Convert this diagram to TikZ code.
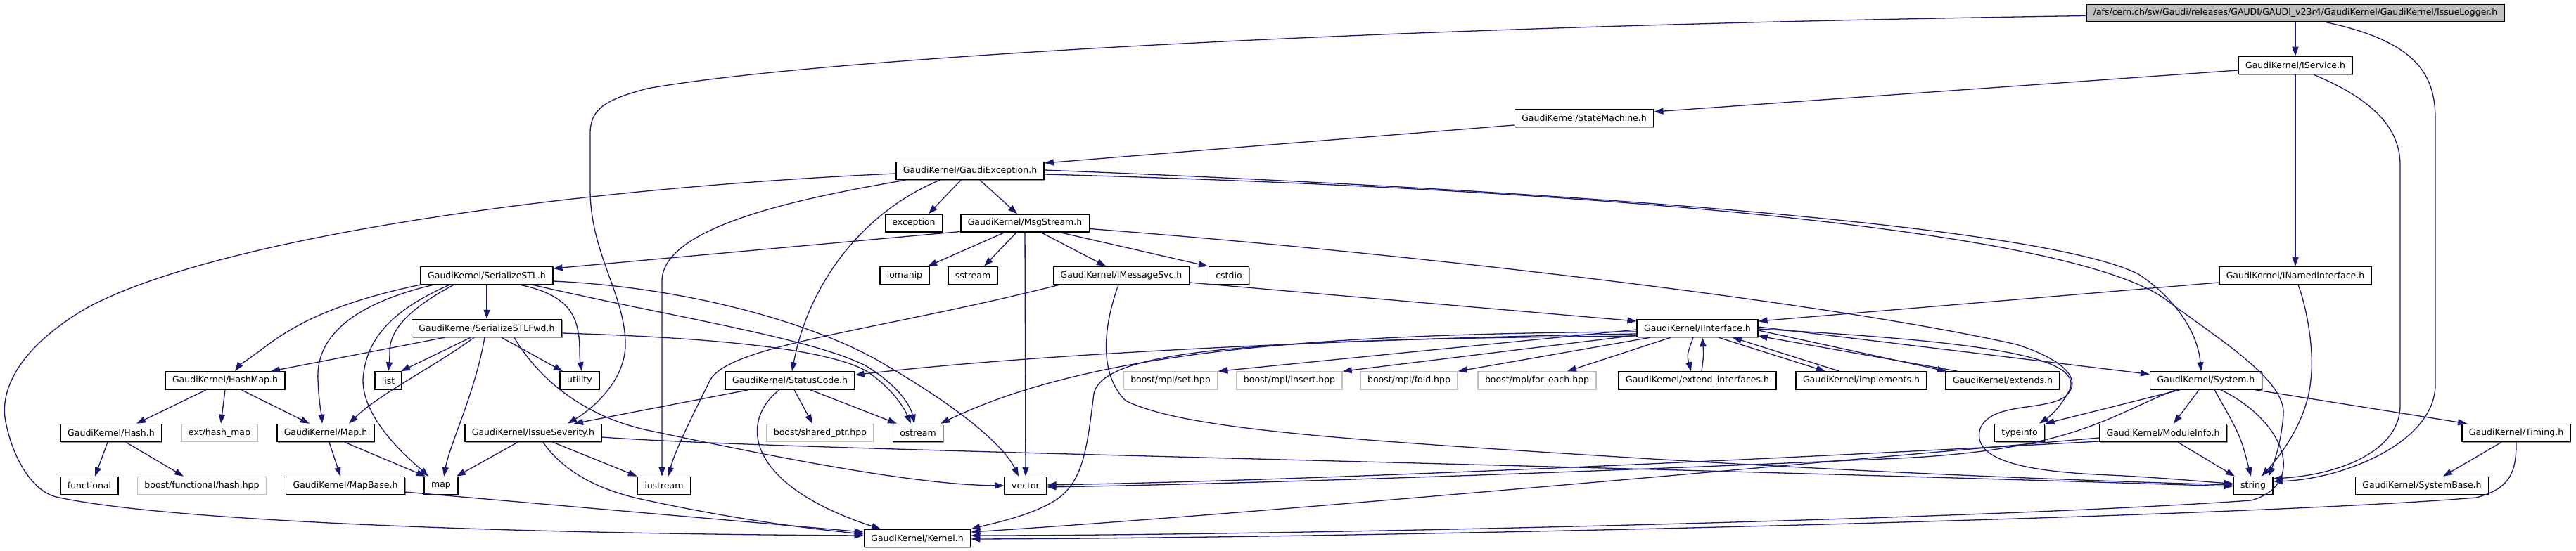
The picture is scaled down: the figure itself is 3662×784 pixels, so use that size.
\documentclass[tikz,border=0pt]{standalone}
\usepackage{fontspec}
\setmainfont{DejaVu Sans}
\usetikzlibrary{arrows.meta,shadows}
\definecolor{edgec}{HTML}{191970}
\definecolor{rootfill}{HTML}{BFBFBF}
\definecolor{extc}{HTML}{BFBFBF}
\begin{document}
\begin{tikzpicture}[x=1pt,y=-1pt,
  nd/.style={draw=black,line width=1.5pt,fill=white,minimum height=25pt,inner xsep=10pt,inner ysep=0pt,font=\fontsize{12.5}{14}\selectfont,general shadow={fill=black!45,shadow xshift=1.2pt,shadow yshift=-1.2pt}},
  ext/.style={draw=extc,line width=1.5pt,fill=white,minimum height=25pt,inner xsep=10pt,inner ysep=0pt,font=\fontsize{12.5}{14}\selectfont},
  e/.style={draw=edgec,line width=1.3pt,-{Triangle[length=13pt,width=9pt]}}]
\useasboundingbox (0,0) rectangle (3662,784);
\node[nd,fill=rootfill] (root) at (3263,18.5) {/afs/cern.ch/sw/Gaudi/releases/GAUDI/GAUDI\_v23r4/GaudiKernel/GaudiKernel/IssueLogger.h};
\node[nd] (iservice) at (3263,93) {GaudiKernel/IService.h};
\node[nd] (statemachine) at (2252,168) {GaudiKernel/StateMachine.h};
\node[nd] (gexc) at (1379,243) {GaudiKernel/GaudiException.h};
\node[nd] (exception) at (1299,317.5) {exception};
\node[nd] (msgstream) at (1457,317.5) {GaudiKernel/MsgStream.h};
\node[nd] (iomanip) at (1286,392) {iomanip};
\node[nd] (sstream) at (1383,392) {sstream};
\node[nd] (imsgsvc) at (1594,392) {GaudiKernel/IMessageSvc.h};
\node[nd] (cstdio) at (1747,392) {cstdio};
\node[nd] (serstl) at (692,392) {GaudiKernel/SerializeSTL.h};
\node[nd] (inamed) at (3263,392) {GaudiKernel/INamedInterface.h};
\node[nd] (serfwd) at (692,467) {GaudiKernel/SerializeSTLFwd.h};
\node[nd] (iinterface) at (2413,467) {GaudiKernel/IInterface.h};
\node[nd] (hashmap) at (320,541.5) {GaudiKernel/HashMap.h};
\node[nd] (list) at (552,541.5) {list};
\node[nd] (utility) at (824,541.5) {utility};
\node[nd] (statuscode) at (1123,541.5) {GaudiKernel/StatusCode.h};
\node[ext] (mplset) at (1664,541.5) {boost/mpl/set.hpp};
\node[ext] (mplinsert) at (1833,541.5) {boost/mpl/insert.hpp};
\node[ext] (mplfold) at (2003,541.5) {boost/mpl/fold.hpp};
\node[ext] (mplforeach) at (2185,541.5) {boost/mpl/for\_each.hpp};
\node[nd] (extendif) at (2413,541.5) {GaudiKernel/extend\_interfaces.h};
\node[nd] (implements) at (2646,541.5) {GaudiKernel/implements.h};
\node[nd] (extends) at (2847,541.5) {GaudiKernel/extends.h};
\node[nd] (system) at (3136,541.5) {GaudiKernel/System.h};
\node[nd] (hash) at (158,616) {GaudiKernel/Hash.h};
\node[ext] (exthashmap) at (312,616) {ext/hash\_map};
\node[nd] (maph) at (463,616) {GaudiKernel/Map.h};
\node[nd] (severity) at (758,616) {GaudiKernel/IssueSeverity.h};
\node[ext] (sharedptr) at (1166,616) {boost/shared\_ptr.hpp};
\node[nd] (ostream) at (1305,616) {ostream};
\node[nd] (typeinfo) at (2871,616) {typeinfo};
\node[nd] (moduleinfo) at (3075,616) {GaudiKernel/ModuleInfo.h};
\node[nd] (timing) at (3577,616) {GaudiKernel/Timing.h};
\node[nd] (functional) at (127,691) {functional};
\node[ext] (bfhash) at (287,691) {boost/functional/hash.hpp};
\node[nd] (mapbase) at (491,691) {GaudiKernel/MapBase.h};
\node[nd] (map) at (627,691) {map};
\node[nd] (iostream) at (944,691) {iostream};
\node[nd] (vector) at (1458,691) {vector};
\node[nd] (string) at (3203,691) {string};
\node[nd] (systembase) at (3443,691) {GaudiKernel/SystemBase.h};
\node[nd] (kernel) at (1304,766) {GaudiKernel/Kernel.h};
% root
\draw[e] (root) -- (iservice);
\draw[e] ([xshift=44pt]root.south) .. controls (3440,60) and (3462,110) .. (3462,170) -- (3462,547) .. controls (3462,630) and (3330,682) .. ([yshift=6pt]string.east);
\draw[e] ([yshift=-4pt]root.west) .. controls (1900,38) and (1150,85) .. (920,126) .. controls (860,142) and (839,155) .. (839,190) -- (839,270) .. controls (839,360) and (889,420) .. (889,490) .. controls (889,540) and (845,580) .. ([xshift=49pt]severity.north);
% IService
\draw[e] ([yshift=-7pt]iservice.west) -- ([yshift=9pt]statemachine.east);
\draw[e] (iservice) -- (inamed);
\draw[e] ([xshift=26pt]iservice.south) .. controls (3370,140) and (3412,180) .. (3412,235) -- (3412,577) .. controls (3412,640) and (3330,675) .. ([yshift=10pt]string.east);
% StateMachine
\draw[e] ([yshift=-10pt]statemachine.west) -- ([yshift=11pt]gexc.east);
% GaudiException
\draw[e] ([xshift=-13pt]gexc.south) -- ([xshift=21pt]exception.north);
\draw[e] ([xshift=14pt]gexc.south) -- ([xshift=-11pt]msgstream.north);
\draw[e] ([yshift=-4pt]gexc.west) .. controls (800,268) and (300,340) .. (120,440) .. controls (20,500) and (0,560) .. (8,600) .. controls (20,660) and (50,700) .. (80,707) .. controls (250,745) and (800,760) .. ([yshift=4pt]kernel.west);
\draw[e] ([xshift=-43pt]gexc.south) .. controls (1230,300) and (1150,400) .. ([xshift=3pt]statuscode.north);
\draw[e] ([xshift=-92pt]gexc.south) .. controls (1150,280) and (941,320) .. (941,400) -- ([xshift=-3pt]iostream.north);
\draw[e] ([yshift=1pt]gexc.east) .. controls (2200,270) and (2900,320) .. (3040,390) .. controls (3100,430) and (3125,480) .. ([xshift=-7pt]system.north);
\draw[e] ([yshift=-5pt]gexc.east) .. controls (2300,270) and (2950,330) .. (3080,427) .. controls (3150,480) and (3250,540) .. (3246,590) .. controls (3243,630) and (3232,660) .. ([xshift=22pt]string.north);
% MsgStream
\draw[e] ([yshift=-12pt]msgstream.west) -- ([yshift=10pt]serstl.east);
\draw[e] ([xshift=-29pt]msgstream.south) -- ([xshift=33pt]iomanip.north);
\draw[e] ([xshift=-12pt]msgstream.south) -- ([xshift=16pt]sstream.north);
\draw[e] ([xshift=23pt]msgstream.south) -- ([xshift=-22pt]imsgsvc.north);
\draw[e] ([xshift=50pt]msgstream.south) -- ([xshift=-30pt]cstdio.north);
\draw[e] (msgstream) -- (vector);
\draw[e] ([yshift=-8pt]msgstream.east) .. controls (2000,360) and (2600,430) .. (2866,490) .. controls (2930,510) and (2965,540) .. (2935,565) .. controls (2905,585) and (2830,572) .. (2815,610) .. controls (2800,660) and (2900,672) .. (3000,676) .. controls (3080,680) and (3140,686) .. ([yshift=3pt]string.west);
% IMessageSvc
\draw[e] ([yshift=-10pt]imsgsvc.east) -- ([yshift=10pt]iinterface.west);
\draw[e] ([xshift=-88pt]imsgsvc.south) .. controls (1250,470) and (1040,490) .. (1010,540) .. controls (985,590) and (960,640) .. ([xshift=6pt]iostream.north);
\draw[e] ([xshift=-4pt]imsgsvc.south) .. controls (1570,460) and (1560,530) .. (1600,570) .. controls (1680,610) and (1900,625) .. (2300,650) .. controls (2700,675) and (3000,685) .. ([yshift=1pt]string.west);
% SerializeSTL
\draw[e] (serstl) -- (serfwd);
\draw[e] ([xshift=-95pt]serstl.south) .. controls (480,430) and (420,460) .. (375,495) .. controls (352,512) and (340,520) .. ([xshift=14pt]hashmap.north);
\draw[e] ([xshift=-76pt]serstl.south) .. controls (470,440) and (450,500) .. (452,540) .. controls (453,570) and (457,590) .. ([xshift=-5pt]maph.north);
\draw[e] ([xshift=-47pt]serstl.south) .. controls (580,440) and (554,470) .. (554,500) .. controls (554,512) and (553,520) .. (list.north);
\draw[e] ([xshift=-53pt]serstl.south) .. controls (560,440) and (520,480) .. (516,540) .. controls (515,600) and (590,660) .. ([xshift=-18pt]map.north);
\draw[e] ([xshift=47pt]serstl.south) .. controls (810,420) and (824,450) .. (824,500) .. controls (824,515) and (826,522) .. ([xshift=3pt]utility.north);
\draw[e] ([xshift=65pt]serstl.south) .. controls (950,450) and (1150,480) .. (1230,520) .. controls (1280,550) and (1295,580) .. ([xshift=-5pt]ostream.north);
\draw[e] ([yshift=-8pt]serstl.east) .. controls (1000,410) and (1180,470) .. (1260,520) .. controls (1380,590) and (1430,640) .. ([xshift=-10pt]vector.north);
% SerializeSTLFwd
\draw[e] ([xshift=-60pt]serfwd.south) -- ([xshift=65pt]hashmap.north);
\draw[e] ([xshift=-23pt]serfwd.south) -- ([xshift=18pt]list.north);
\draw[e] ([xshift=-18pt]serfwd.south) .. controls (620,520) and (540,560) .. ([xshift=33pt]maph.north);
\draw[e] ([xshift=-3pt]serfwd.south) .. controls (675,560) and (640,630) .. ([xshift=4pt]map.north);
\draw[e] ([xshift=21pt]serfwd.south) -- ([xshift=-24pt]utility.north);
\draw[e] ([yshift=-7pt]serfwd.east) .. controls (1000,480) and (1180,495) .. (1235,530) .. controls (1270,555) and (1285,580) .. ([xshift=-10pt]ostream.north);
\draw[e] ([xshift=39pt]serfwd.south) .. controls (760,530) and (820,590) .. (920,612) .. controls (1100,650) and (1300,690) .. (vector.west);
% HashMap, Hash, Map, MapBase
\draw[e] ([xshift=-27pt]hashmap.south) -- ([xshift=36pt]hash.north);
\draw[e] (hashmap.south) -- ([xshift=2pt]exthashmap.north);
\draw[e] ([xshift=23pt]hashmap.south) -- ([xshift=-23pt]maph.north);
\draw[e] ([xshift=-5pt]hash.south) -- ([xshift=8pt]functional.north);
\draw[e] ([xshift=21pt]hash.south) -- ([xshift=-26pt]bfhash.north);
\draw[e] ([xshift=5pt]maph.south) -- ([xshift=-7pt]mapbase.north);
\draw[e] ([xshift=27pt]maph.south) -- ([xshift=-22pt]map.north);
\draw[e] ([yshift=-9pt]mapbase.east) -- ([yshift=9pt]kernel.west);
% IssueSeverity
\draw[e] ([xshift=-22pt]severity.south) -- ([xshift=22pt]map.north);
\draw[e] ([xshift=28pt]severity.south) -- (iostream.north west);
\draw[e] ([xshift=14pt]severity.south) .. controls (800,670) and (850,698) .. (920,712) .. controls (1050,740) and (1150,752) .. ([yshift=6pt]kernel.west);
\draw[e] ([yshift=-6pt]severity.east) .. controls (1100,640) and (2000,655) .. ([yshift=-1pt]string.west);
% StatusCode
\draw[e] ([xshift=-59pt]statuscode.south) -- ([xshift=58pt]severity.north);
\draw[e] ([xshift=6pt]statuscode.south) -- ([xshift=-11pt]sharedptr.north);
\draw[e] ([xshift=29pt]statuscode.south) -- ([xshift=-30pt]ostream.north);
\draw[e] ([xshift=-15pt]statuscode.south) .. controls (1050,600) and (1060,690) .. ([xshift=-52pt]kernel.north);
% IInterface
\draw[e] ([yshift=-8pt]iinterface.west) .. controls (2000,480) and (1500,500) .. ([yshift=8pt]statuscode.east);
\draw[e] ([yshift=-5pt]iinterface.west) .. controls (1900,475) and (1560,495) .. ([xshift=32pt]ostream.north);
\draw[e] ([yshift=-11pt]iinterface.west) .. controls (1800,483) and (1570,495) .. (1555,560) .. controls (1545,640) and (1540,690) .. (1495,715) .. controls (1460,735) and (1410,745) .. (kernel.north east);
\draw[e] ([yshift=-2pt]iinterface.west) -- (mplset.north east);
\draw[e] ([yshift=-10pt]iinterface.west) -- (mplinsert.north east);
\draw[e] ([xshift=-67pt]iinterface.south) -- (mplfold.north east);
\draw[e] ([xshift=-38pt]iinterface.south) -- ([xshift=43pt]mplforeach.north);
\draw[e] ([xshift=-6pt]iinterface.south) .. controls (2398,505) .. ([xshift=-9pt]extendif.north);
\draw[e] ([xshift=6pt]extendif.north) .. controls (2422,505) .. ([xshift=7pt]iinterface.south);
\draw[e] ([xshift=30pt]iinterface.south) -- ([xshift=-51pt]implements.north);
\draw[e] ([xshift=-31pt]implements.north) -- ([xshift=50pt]iinterface.south);
\draw[e] ([yshift=-3pt]iinterface.east) -- ([xshift=-80pt]extends.north);
\draw[e] ([xshift=-64pt]extends.north) -- ([yshift=-11pt]iinterface.east);
\draw[e] ([yshift=2pt]iinterface.east) -- ([yshift=9pt]system.west);
\draw[e] ([yshift=-1pt]iinterface.east) .. controls (2800,485) and (2965,505) .. (2942,555) .. controls (2930,578) and (2915,592) .. ([xshift=28pt]typeinfo.north);
% INamedInterface
\draw[e] ([yshift=-10pt]inamed.west) -- ([yshift=10pt]iinterface.east);
\draw[e] ([xshift=4pt]inamed.south) .. controls (3280,440) and (3290,500) .. (3285,540) .. controls (3280,600) and (3240,650) .. ([xshift=12pt]string.north);
% System
\draw[e] ([xshift=-37pt]system.south) -- (typeinfo.north east);
\draw[e] ([xshift=-43pt]system.south) .. controls (3000,590) and (2950,640) .. (2700,652) .. controls (2300,670) and (1800,688) .. ([yshift=-2pt]vector.east);
\draw[e] ([xshift=-10pt]system.south) -- ([xshift=15pt]moduleinfo.north);
\draw[e] ([xshift=12pt]system.south) .. controls (3185,620) .. ([xshift=-3pt]string.north);
\draw[e] ([xshift=21pt]system.south) .. controls (3250,600) and (3280,690) .. (3200,712) .. controls (2800,740) and (1800,762) .. ([yshift=4pt]kernel.east);
\draw[e] ([xshift=70pt]system.south) -- ([xshift=-70pt]timing.north);
% ModuleInfo
\draw[e] ([xshift=21pt]moduleinfo.south) -- ([xshift=-26pt]string.north);
\draw[e] ([yshift=-12pt]moduleinfo.west) .. controls (2400,660) and (1800,685) .. ([yshift=1pt]vector.east);
\draw[e] ([yshift=-7pt]moduleinfo.west) .. controls (2500,665) and (1800,730) .. ([yshift=9pt]kernel.east);
% Timing
\draw[e] ([xshift=-21pt]timing.south) -- ([xshift=30pt]systembase.north);
\draw[e] (timing.south) .. controls (3577,670) and (3570,695) .. (3520,708) .. controls (3200,735) and (2000,765) .. ([yshift=-1pt]kernel.east);
\end{tikzpicture}
\end{document}
